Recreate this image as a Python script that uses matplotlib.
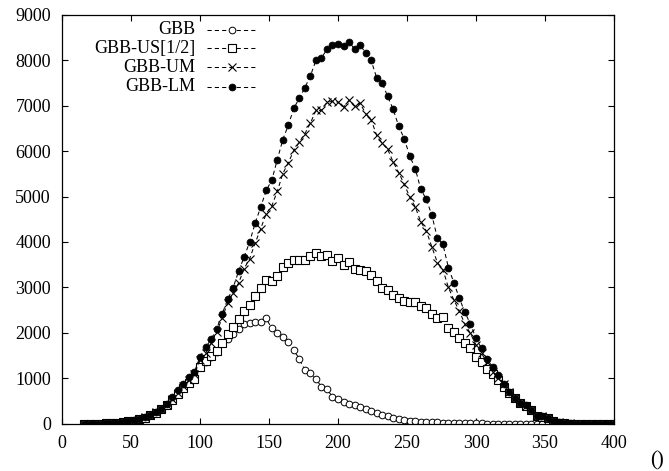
import matplotlib
matplotlib.use('Agg')
import matplotlib.pyplot as plt

# x grid: every 4 units from 16 to 400
x = list(range(16, 401, 4))

gbb = [0, 2, 4, 8, 12, 18, 28, 40, 55, 75, 100, 140, 190, 250, 320, 410, 540, 670, 810, 940, 1080,
       1250, 1368, 1478, 1587, 1770, 1859, 1968, 2078, 2188, 2210, 2246, 2232, 2320, 2100, 1990, 1903,
       1807, 1624, 1427, 1185, 1112, 988, 819, 761, 600, 540,
       490, 450, 410, 370, 320, 275, 235, 200, 165, 130, 100, 85, 72, 62, 54, 46, 40, 35, 30, 26,
       23, 20, 17, 15, 13, 11, 10, 9, 8, 7, 6, 5, 5, 4, 4, 3, 3, 2, 2, 2, 1, 1, 1, 1, 0, 0, 0, 0, 0, 0]

gbb_us = [0, 2, 4, 8, 12, 18, 28, 40, 55, 75, 100, 140, 190, 250, 320, 410, 530, 660, 790, 900, 988,
          1250, 1383, 1493, 1609, 1785, 1975, 2136, 2298, 2488, 2612, 2810, 2978, 3175, 3146, 3249, 3453,
          3541, 3600, 3614, 3614, 3688, 3760, 3688, 3709, 3585, 3658,
          3505, 3563, 3417, 3395, 3358, 3271, 3146, 2978, 2956, 2831, 2759, 2700, 2685, 2685, 2590,
          2539, 2408, 2320, 2356, 2100, 2026, 1881, 1771, 1662, 1464, 1368, 1200, 1098, 966, 819,
          673, 564, 454, 395, 307, 182, 160, 125, 72, 29, 15, 10, 6, 4, 3, 2, 1, 1, 0, 0]

gbb_um = [0, 2, 4, 8, 12, 18, 28, 40, 55, 75, 105, 145, 195, 255, 330, 420, 550, 690, 830, 960, 1100,
          1405, 1552, 1771, 2026, 2320, 2663, 2880, 3102, 3417, 3636, 3979, 4295, 4625, 4792, 5114, 5503,
          5744, 6014, 6197, 6381, 6614, 6892, 6892, 7075, 7090, 7075,
          6965, 7112, 6980, 7053, 6820, 6688, 6344, 6175, 6036, 5757, 5525, 5268, 4989, 4770, 4441,
          4243, 3892, 3549, 3395, 3000, 2722, 2480, 2188, 1990, 1734, 1552, 1354, 1148, 1003, 878,
          709, 564, 454, 400, 307, 182, 170, 125, 72, 40, 20, 12, 8, 5, 3, 2, 1, 1, 0, 0]

gbb_lm = [0, 2, 5, 8, 12, 20, 30, 42, 58, 80, 110, 150, 200, 260, 340, 440, 590, 740, 890, 1040, 1149,
          1478, 1683, 1859, 2085, 2414, 2737, 2992, 3365, 3672, 4002, 4419, 4770, 5136, 5356, 5810, 6249,
          6570, 6940, 7163, 7391, 7654, 7990, 8049, 8231, 8334, 8356,
          8297, 8392, 8246, 8334, 8151, 7990, 7610, 7492, 7200, 6914, 6541, 6270, 5889, 5612, 5158,
          4939, 4587, 4090, 3951, 3439, 3102, 2759, 2452, 2195, 1881, 1662, 1420, 1258, 1076, 878,
          709, 564, 454, 417, 307, 182, 176, 125, 72, 50, 25, 15, 10, 6, 4, 3, 2, 1, 1, 0]

labels = ['GBB', 'GBB-US[1/2]', 'GBB-UM', 'GBB-LM']

plt.rcParams['font.family'] = ['Liberation Serif', 'DejaVu Serif']
plt.rcParams['font.size'] = 13

fig = plt.figure(figsize=(6.69, 4.71), dpi=100)
ax = fig.add_axes([0.0927, 0.0998, 0.8251, 0.8694])

styles = [
    dict(marker='o', ms=4.8, mfc='white', mec='black', mew=0.7),
    dict(marker='s', ms=5.4, mfc='white', mec='black', mew=0.8),
    dict(marker='x', ms=5.2, mec='black', mew=0.8),
    dict(marker='o', ms=5.0, mfc='black', mec='black', mew=0.5),
]
series = [gbb, gbb_us, gbb_um, gbb_lm]

for ys, st in zip(series, styles):
    ax.plot(x, ys, color='black', lw=0.75, ls=(0, (4, 3)), **st)

# gnuplot-like key: right aligned text, sample line to the right
key_rows = [0.963, 0.917, 0.871, 0.824]
for lab, st, yk in zip(labels, styles, key_rows):
    ax.text(0.241, yk, lab, transform=ax.transAxes, ha='right', va='center', fontsize=13)
    ax.plot([0.263, 0.353], [yk, yk], transform=ax.transAxes, color='black', lw=0.75,
            ls=(0, (4, 3)), clip_on=False)
    ax.plot([0.308], [yk], transform=ax.transAxes, color='black', ls='none', clip_on=False, **st)

ax.set_xlim(0, 400)
ax.set_ylim(0, 9000)
ax.set_xticks(range(0, 401, 50))
ax.set_yticks(range(0, 9001, 1000))
ax.tick_params(direction='in', length=4.5, width=0.8, top=True, right=True, labelsize=13)
ax.tick_params(axis='x', pad=8)
ax.tick_params(axis='y', pad=8)
for sp in ax.spines.values():
    sp.set_linewidth(0.9)

fig.text(657 / 669, 1 - 461 / 471, '()', ha='center', va='center', fontsize=15)

fig.savefig('out.png', dpi=100)
